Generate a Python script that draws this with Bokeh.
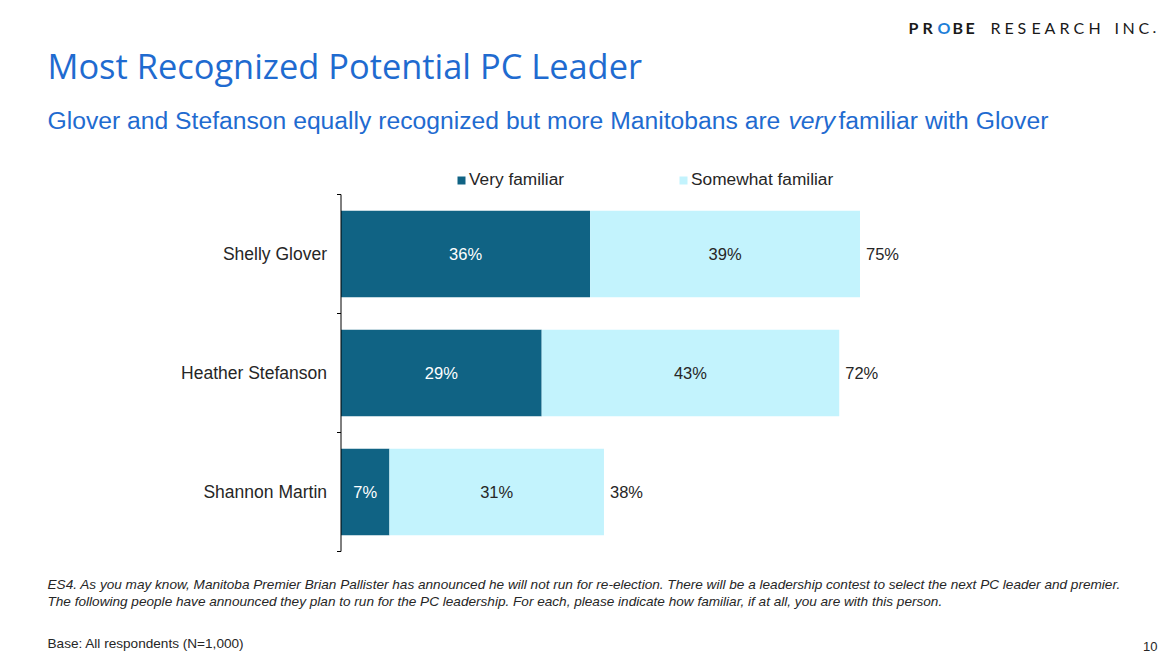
from bokeh.plotting import figure
from bokeh.models import Range1d, ColumnDataSource, Label, Legend, LegendItem
from bokeh.core.properties import value
from bokeh.embed import file_html
from bokeh.resources import INLINE

# ---- data ----
candidates = ["Shannon Martin", "Heather Stefanson", "Shelly Glover"]  # bottom to top
very_familiar = [7, 29, 36]
somewhat_familiar = [31, 43, 39]
totals = [38, 72, 75]
series_names = ["Very familiar", "Somewhat familiar"]

DARK = "#106384"
LIGHT = "#C3F3FD"
BLUE = "#1F6BD0"
TXT = "#262626"

W, H = 1175, 664
# pixel anchors of the plotting area (layout only)
X0_PX, PX_PER_PCT = 340.5, 6.92
Y0_PX, PX_PER_CAT = 551.0, 119.0

xr = Range1d(-X0_PX / PX_PER_PCT, (W - X0_PX) / PX_PER_PCT)
yr = Range1d(-(H - Y0_PX) / PX_PER_CAT, Y0_PX / PX_PER_CAT)

p = figure(width=W, height=H, output_backend="svg", toolbar_location=None,
           x_range=xr, y_range=yr, x_axis_location=None, y_axis_location=None,
           min_border=0)
p.outline_line_color = None
p.xgrid.visible = False
p.ygrid.visible = False
p.background_fill_color = "white"
p.border_fill_color = "white"

n = len(candidates)
ypos = [i + 0.5 for i in range(n)]
src = ColumnDataSource(dict(
    y=ypos, v=very_familiar, s=somewhat_familiar, tot=totals,
    r2=[a + b for a, b in zip(very_familiar, somewhat_familiar)],
    zero=[0] * n,
    vmid=[v / 2 for v in very_familiar],
    smid=[v + s / 2 for v, s in zip(very_familiar, somewhat_familiar)],
    vlab=[f"{v}%" for v in very_familiar],
    slab=[f"{s}%" for s in somewhat_familiar],
    tlab=[f"{t}%" for t in totals],
    cat=candidates,
))

r1 = p.hbar(y="y", left="zero", right="v", height=0.725, fill_color=DARK, line_color=None, source=src)
r2 = p.hbar(y="y", left="v", right="r2", height=0.725, fill_color=LIGHT, line_color=None, source=src)

font = value("Liberation Sans")
p.text(x="vmid", y="y", text="vlab", source=src, text_font=font, text_font_size="16.5px",
       text_color="white", text_align="center", text_baseline="middle")
p.text(x="smid", y="y", text="slab", source=src, text_font=font, text_font_size="16.5px",
       text_color=TXT, text_align="center", text_baseline="middle")
p.text(x="r2", y="y", text="tlab", source=src, text_font=font, text_font_size="16.5px",
       text_color=TXT, text_align="left", text_baseline="middle", x_offset=6)

# category axis: line, boundary ticks, labels
bounds = list(range(n + 1))
p.segment(x0=[0], y0=[0], x1=[0], y1=[n], line_color="black", line_width=1)
p.segment(x0=[0] * len(bounds), y0=bounds, x1=[-4 / PX_PER_PCT] * len(bounds), y1=bounds,
          line_color="black", line_width=1)
p.text(x="zero", y="y", text="cat", source=src, text_font=font, text_font_size="17.5px",
       text_color=TXT, text_align="right", text_baseline="middle", x_offset=-14)

legend = Legend(items=[LegendItem(label=series_names[0], renderers=[r1]),
                       LegendItem(label=series_names[1], renderers=[r2])],
                orientation="horizontal", location=(456, H - 190),
                glyph_width=10, glyph_height=10, label_standoff=3, spacing=114,
                label_text_font="Liberation Sans", label_text_font_size="17.3px",
                label_text_color=TXT, border_line_color=None, background_fill_alpha=0,
                padding=0, margin=0, label_height=12)
p.add_layout(legend, "center")

def lab(text, ix, iy, size, color=TXT, font_name="Liberation Sans", style="normal", align="left"):
    p.add_layout(Label(x=ix, y=H - iy, x_units="screen", y_units="screen",
                       text=text, text_font=font_name, text_font_size=size, text_color=color,
                       text_font_style=style, text_align=align, text_baseline="middle"))

lab("Most Recognized Potential PC Leader", 47, 65, "34.4px", BLUE, "Open Sans")
lab("Glover and Stefanson equally recognized but more Manitobans are", 47, 120, "24.7px", BLUE)
lab("very", 788, 120, "24.7px", BLUE, style="italic")
lab("familiar with Glover", 838, 120, "24.7px", BLUE)

# logo (letter-spaced)
logo_chars = list("PROBE") + list("RESEARCHINC.")
logo_x = [908, 922, 937, 952, 965, 990, 1004, 1017, 1031, 1044, 1059, 1073, 1088, 1114, 1122, 1138, 1152]
for i, (ch, lx) in enumerate(zip(logo_chars, logo_x)):
    bold = i < 5
    col = "#1E7FD8" if i == 2 else "#1a1a1a"
    lab(ch, lx, 27, "16px", col, "Lato", "bold" if bold else "normal")

lab("ES4. As you may know, Manitoba Premier Brian Pallister has announced he will not run for re-election. There will be a leadership contest to select the next PC leader and premier.",
    47, 584, "13.6px", TXT, style="italic")
lab("The following people have announced they plan to run for the PC leadership. For each,  please indicate how familiar, if at all, you are with this person.",
    47, 601, "13.6px", TXT, style="italic")
lab("Base: All respondents (N=1,000)", 47, 643, "13.6px", TXT)
lab("10", 1157, 646, "13px", TXT, align="right")

open("out.html", "w").write(file_html(p, INLINE))
